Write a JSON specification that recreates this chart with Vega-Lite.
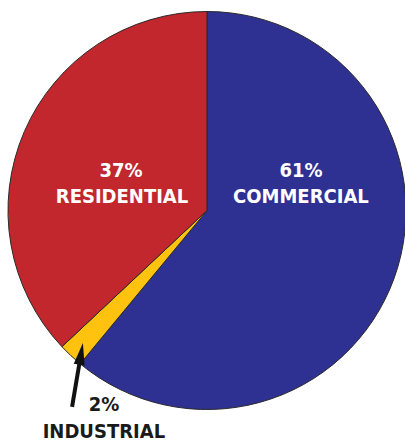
{
  "$schema": "https://vega.github.io/schema/vega-lite/v6.json",
  "width": 405,
  "height": 443,
  "autosize": "none",
  "padding": 0,
  "background": "white",
  "config": {"view": {"stroke": null}},
  "datasets": {
    "slices": [
      {"category": "Commercial", "share": 61, "rank": 1},
      {"category": "Industrial", "share": 2, "rank": 2},
      {"category": "Residential", "share": 37, "rank": 3}
    ],
    "labels": [
      {"text": "61%", "slice": "Commercial", "u": 0.472, "v": 0.168},
      {"text": "COMMERCIAL", "slice": "Commercial", "u": 0.472, "v": 0.038},
      {"text": "37%", "slice": "Residential", "u": -0.432, "v": 0.168},
      {"text": "RESIDENTIAL", "slice": "Residential", "u": -0.427, "v": 0.038},
      {"text": "2%", "slice": "Industrial", "u": -0.518, "v": -1.01},
      {"text": "INDUSTRIAL", "slice": "Industrial", "u": -0.518, "v": -1.145}
    ],
    "arrow": [
      {"u0": -0.678, "v0": -0.987, "u1": -0.633, "v1": -0.72}
    ]
  },
  "layer": [
    {
      "data": {"name": "slices"},
      "mark": {"type": "arc", "outerRadius": 199, "stroke": "#2a2a2a", "strokeWidth": 1},
      "encoding": {
        "theta": {"field": "share", "type": "quantitative", "stack": true},
        "order": {"field": "rank", "type": "quantitative"},
        "color": {
          "field": "category",
          "type": "nominal",
          "scale": {"domain": ["Commercial", "Industrial", "Residential"], "range": ["#2E3192", "#FFC20E", "#C1272D"]},
          "legend": null
        },
        "x": {"datum": 0, "type": "quantitative", "scale": {"domain": [-1.0402, 0.995], "nice": false, "zero": false}, "axis": null},
        "y": {"datum": 0, "type": "quantitative", "scale": {"domain": [-1.1683, 1.0578], "nice": false, "zero": false}, "axis": null}
      }
    },
    {
      "data": {"name": "arrow"},
      "mark": {"type": "rule", "strokeWidth": 4, "color": "#111111"},
      "encoding": {
        "x": {"field": "u0", "type": "quantitative"},
        "y": {"field": "v0", "type": "quantitative"},
        "x2": {"field": "u1"},
        "y2": {"field": "v1"}
      }
    },
    {
      "data": {"name": "arrow"},
      "mark": {"type": "point", "shape": "M0,-1L0.5,1L-0.5,1Z", "size": 484, "angle": 9.75, "filled": true, "color": "#111111", "opacity": 1, "strokeWidth": 0},
      "encoding": {
        "x": {"field": "u1", "type": "quantitative"},
        "y": {"field": "v1", "type": "quantitative"}
      }
    },
    {
      "data": {"name": "labels"},
      "mark": {"type": "text", "font": "DejaVu Sans Condensed, DejaVu Sans, sans-serif", "fontWeight": "bold", "fontSize": 20, "align": "center", "baseline": "alphabetic"},
      "encoding": {
        "x": {"field": "u", "type": "quantitative"},
        "y": {"field": "v", "type": "quantitative"},
        "text": {"field": "text"},
        "color": {"condition": {"test": "datum.slice === 'Industrial'", "value": "#1a1a1a"}, "value": "white"}
      }
    }
  ]
}
